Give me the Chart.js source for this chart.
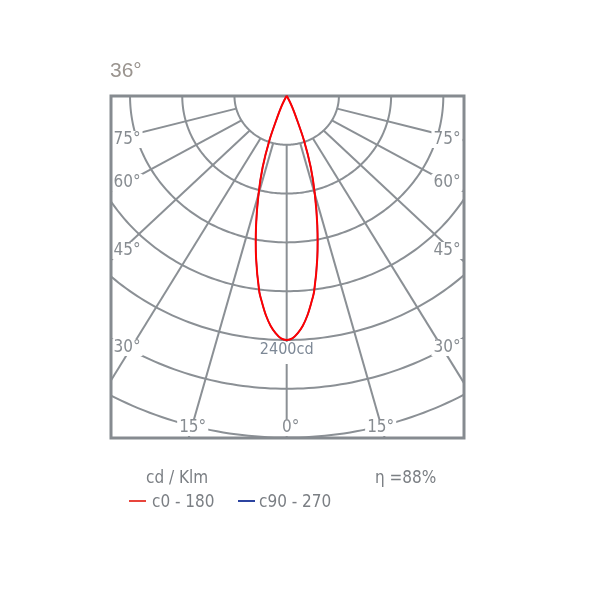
<!DOCTYPE html>
<html><head><meta charset="utf-8">
<script src="https://cdn.jsdelivr.net/npm/chart.js@4"></script>
<style>
html,body{margin:0;padding:0;background:#fff;}
#wrap{position:relative;width:600px;height:600px;overflow:hidden;}
canvas{position:absolute;left:0;top:0;}
.t{position:absolute;white-space:nowrap;font-family:"DejaVu Sans Condensed","Liberation Sans Narrow",sans-serif;font-size:17px;line-height:18px;color:#7b7f84;}
.sw{position:absolute;height:2px;width:17px;}
</style></head><body>
<div id="wrap">
<canvas id="c" width="600" height="600"></canvas>
<div class="t" id="title" style="left:110px;top:59px;font-family:'Liberation Sans',Arial,sans-serif;font-size:21px;line-height:21px;color:#9a948f;"></div>
<div class="t" id="unit" style="left:146px;top:468px;"></div>
<div class="t" id="eff" style="left:375px;top:468px;"></div>
<div class="sw" id="sw0" style="left:129px;top:500px;"></div>
<div class="t" id="lg0" style="left:152px;top:492px;"></div>
<div class="sw" id="sw1" style="left:238px;top:500px;"></div>
<div class="t" id="lg1" style="left:259px;top:492px;"></div>
</div>
<script>
// ---- data ----
const beamTitle = "36°";
const unitLabel = "cd / Klm";
const efficiencyLabel = "η =88%";
const peakLabel = "2400cd";
const seriesNames = ["c0 - 180", "c90 - 270"];
const gammaAngles = [0, 1.25, 2.5, 3.75, 5, 6.25, 7.5, 10, 12.5, 15, 17.5, 20, 22.5, 25, 27.5, 30, 35, 40, 45, 60, 75, 90];
const c0_180  = [2400, 2385, 2335, 2265, 2170, 2055, 1935, 1620, 1300, 1000, 735, 465, 225, 120, 50, 20, 8, 5, 3, 1, 0, 0];
const c90_270 = [2400, 2385, 2335, 2265, 2170, 2055, 1935, 1620, 1300, 1000, 735, 465, 225, 120, 50, 20, 8, 5, 3, 1, 0, 0];
const gridRadii = [480, 960, 1440, 1920, 2400, 2880, 3360, 3840];
const radialAngles = [-75, -60, -45, -30, -15, 0, 15, 30, 45, 60, 75];
const sideAngleLabels = ["75°", "60°", "45°", "30°"];
const bottomAngleLabels = ["15°", "0°", "15°"];

// ---- styles ----
const RED = "#ff0000", BLUE = "#2c44a0";
const GRID = "#8b9095", FRAME = "#868b90", LABEL = "#878c91", PEAK = "#7d8896";
const LABEL_FONT = '17px "DejaVu Sans Condensed","Liberation Sans Narrow",sans-serif';
const PEAK_FONT = '16px "DejaVu Sans Condensed","Liberation Sans Narrow",sans-serif';

document.getElementById('title').textContent = beamTitle;
document.getElementById('unit').textContent = unitLabel;
document.getElementById('eff').textContent = efficiencyLabel;
document.getElementById('lg0').textContent = seriesNames[0];
document.getElementById('lg1').textContent = seriesNames[1];
document.getElementById('sw0').style.background = "#e8453c";
document.getElementById('sw1').style.background = BLUE;

function curvePoints(vals){
  const pts = [];
  for (let i = gammaAngles.length - 1; i >= 0; i--) {
    const t = -gammaAngles[i] * Math.PI / 180;
    pts.push({x: vals[i] * Math.sin(t), y: -vals[i] * Math.cos(t)});
  }
  for (let i = 1; i < gammaAngles.length; i++) {
    const t = gammaAngles[i] * Math.PI / 180;
    pts.push({x: vals[i] * Math.sin(t), y: -vals[i] * Math.cos(t)});
  }
  return pts;
}

const gridPlugin = {
  id: 'photoGrid',
  beforeDatasetsDraw(chart){
    const {ctx, chartArea: a, scales: {x, y}} = chart;
    const P = (r, deg) => { const t = deg * Math.PI / 180;
      return [x.getPixelForValue(r * Math.sin(t)), y.getPixelForValue(-r * Math.cos(t))]; };
    ctx.save();
    ctx.beginPath(); ctx.rect(a.left, a.top, a.right - a.left, a.bottom - a.top); ctx.clip();
    ctx.strokeStyle = GRID; ctx.lineWidth = 2; ctx.lineJoin = 'round';
    gridRadii.forEach(r => {
      ctx.beginPath();
      for (let d = -90; d <= 90; d += 1) { const [px, py] = P(r, d); if (d === -90) ctx.moveTo(px, py); else ctx.lineTo(px, py); }
      ctx.stroke();
    });
    radialAngles.forEach(d => {
      const [x0, y0] = P(gridRadii[0], d), [x1, y1] = P(8000, d);
      ctx.beginPath(); ctx.moveTo(x0, y0); ctx.lineTo(x1, y1); ctx.stroke();
    });
    ctx.restore();

    // angle labels
    const cx = x.getPixelForValue(0);
    const sideY = [43, 86, 154, 251];
    const labels = [];
    sideAngleLabels.forEach((s, i) => {
      labels.push([s, a.left + 16, a.top + sideY[i]]);
      labels.push([s, a.right - 17, a.top + sideY[i]]);
    });
    const botX = [-94, 4, 94];
    bottomAngleLabels.forEach((s, i) => labels.push([s, cx + botX[i], a.bottom - 11]));
    ctx.save();
    ctx.font = LABEL_FONT; ctx.textAlign = 'center'; ctx.textBaseline = 'middle';
    labels.forEach(([s, lx, ly]) => {
      const w = ctx.measureText(s).width + 4;
      ctx.fillStyle = '#fff';
      ctx.fillRect(lx - w / 2, ly - 8, w, Math.min(17, a.bottom - 1.5 - (ly - 8)));
      ctx.fillStyle = LABEL; ctx.fillText(s, lx, ly + 1);
    });
    // peak label
    ctx.font = PEAK_FONT;
    const py = y.getPixelForValue(-2400);
    const pw = ctx.measureText(peakLabel).width + 14;
    ctx.fillStyle = '#fff'; ctx.fillRect(cx - pw / 2, py + 2, pw, 22);
    ctx.fillStyle = PEAK; ctx.fillText(peakLabel, cx, py + 10);
    ctx.restore();

    // frame
    ctx.save();
    ctx.strokeStyle = FRAME; ctx.lineWidth = 3;
    ctx.strokeRect(a.left, a.top, a.right - a.left, a.bottom - a.top);
    ctx.restore();
  }
};

new Chart(document.getElementById('c'), {
  type: 'scatter',
  data: {
    datasets: [
      {label: seriesNames[1], data: curvePoints(c90_270), showLine: true, borderColor: BLUE, borderWidth: 1.5, pointRadius: 0, tension: 0.3, clip: false, order: 2},
      {label: seriesNames[0], data: curvePoints(c0_180), showLine: true, borderColor: RED, borderWidth: 2, pointRadius: 0, tension: 0.3, clip: false, order: 1}
    ]
  },
  options: {
    responsive: false, animation: false, devicePixelRatio: 1,
    layout: {padding: {left: 111, right: 136, top: 96, bottom: 162}},
    plugins: {legend: {display: false}, tooltip: {enabled: false}, title: {display: false}},
    scales: {
      x: {type: 'linear', min: -1615, max: 1630, display: false},
      y: {type: 'linear', min: -3364, max: 0, display: false}
    }
  },
  plugins: [gridPlugin]
});
</script>
</body></html>
